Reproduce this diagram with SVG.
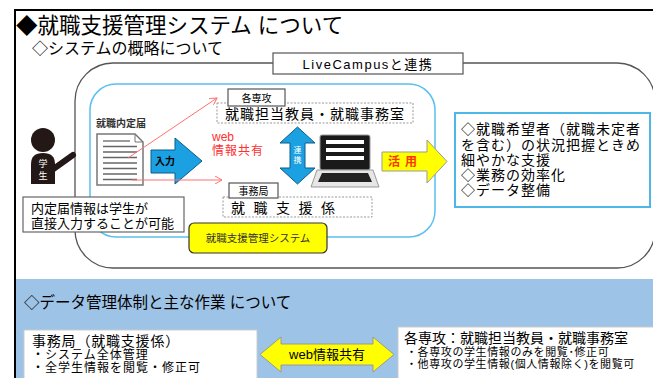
<svg xmlns="http://www.w3.org/2000/svg" width="653" height="378" viewBox="0 0 653 378">
<style>
text{font-family:"Liberation Sans","Noto Sans CJK JP",sans-serif;}
.lbl{fill:#fff;stroke:#555;stroke-width:1.2;}
.dash{fill:#fff;stroke:#999;stroke-width:1;stroke-dasharray:2,1.5;}
.red{stroke:#ff7070;stroke-width:1;fill:none;}
</style>
<defs>
<marker id="ah" markerWidth="8" markerHeight="8" refX="7" refY="4" orient="auto" markerUnits="userSpaceOnUse">
<path d="M0,0 L7,4 L0,8" fill="none" stroke="#ff7070" stroke-width="1"/>
</marker>
</defs>
<rect width="653" height="378" fill="#fff"/>
<rect x="16" y="279" width="637" height="99" fill="#9dc3e6"/>
<path d="M653,10 H15 V378" fill="none" stroke="#000" stroke-width="2"/>
<text x="16" y="33" font-size="21.5" fill="#000">◆就職支援管理システム について</text>
<text x="32" y="54" font-size="16" fill="#000">◇システムの概略について</text>

<g id="outer">
<rect x="75" y="63" width="580" height="205" rx="38" fill="none" stroke="#555" stroke-width="1.3"/>
</g>
<g id="livecampus">
<rect x="273" y="53" width="190" height="21" class="lbl"/>
<text x="368" y="69" font-size="13" text-anchor="middle" letter-spacing="1.5" fill="#000">LiveCampusと連携</text>
</g>
<g id="inner">
<rect x="90" y="84" width="345" height="153" rx="26" fill="none" stroke="#5bc0f0" stroke-width="1.5"/>
</g>
<g id="system">
<rect x="189" y="223" width="138" height="30" rx="5" fill="#ffff00" stroke="#333" stroke-width="1.2"/>
<text x="258" y="242" font-size="10.5" text-anchor="middle" fill="#333">就職支援管理システム</text>
</g>

<g id="student">
<circle cx="43" cy="140" r="12" fill="#231815"/>
<path d="M31,184 V164 Q31,153 43,153 Q55,153 55,164 V184 Z" fill="#231815"/>
<line x1="52" y1="170" x2="73" y2="155" stroke="#231815" stroke-width="6" stroke-linecap="round"/>
<text x="43" y="167" font-size="9" text-anchor="middle" fill="#fff">学</text>
<text x="43" y="179" font-size="9" text-anchor="middle" fill="#fff">生</text>
</g>
<g id="note">
<rect x="23" y="197" width="161" height="35" fill="#fff" stroke="#666" stroke-width="1.2"/>
<text x="31" y="213" font-size="13" fill="#000">内定届情報は学生が</text>
<text x="31" y="228" font-size="13" fill="#000">直接入力することが可能</text>
</g>
<g id="doc">
<text x="96" y="127" font-size="10" font-weight="bold" fill="#333">就職内定届</text>
<path d="M97,134 H135 L143,142 V185 H97 Z" fill="#fff" stroke="#777" stroke-width="1.5"/>
<path d="M135,134 V142 H143" fill="none" stroke="#777" stroke-width="1"/>
<g stroke="#666" stroke-width="1.3">
<line x1="103" y1="141" x2="130" y2="141"/>
<line x1="103" y1="146.5" x2="137" y2="146.5"/>
<line x1="103" y1="152" x2="137" y2="152"/>
<line x1="103" y1="157.5" x2="137" y2="157.5"/>
<line x1="103" y1="163" x2="137" y2="163"/>
<line x1="103" y1="168.5" x2="137" y2="168.5"/>
<line x1="103" y1="174" x2="137" y2="174"/>
<line x1="103" y1="179.5" x2="137" y2="179.5"/>
</g>
</g>
<g id="input-arrow">
<polygon points="151,150 175,150 175,138 202,161 175,184 175,173 151,173" fill="#1ba1e2" stroke="#0a5c8a" stroke-width="1"/>
<text x="165" y="165" font-size="10" font-weight="bold" text-anchor="middle" fill="#000">入力</text>
</g>
<g id="senko">
<rect x="217" y="103" width="196" height="20" class="dash"/>
<rect x="228" y="89" width="57" height="17" class="lbl"/>
<text x="256.5" y="101.5" font-size="10" text-anchor="middle" fill="#000">各専攻</text>
<text x="225" y="119" font-size="14" letter-spacing="1" fill="#000">就職担当教員・就職事務室</text>
</g>
<g id="jimukyoku">
<rect x="223" y="197" width="149" height="20" class="dash"/>
<rect x="229" y="183" width="49" height="15" class="lbl"/>
<text x="253.5" y="194.5" font-size="10" text-anchor="middle" fill="#000">事務局</text>
<text x="231" y="213" font-size="14" letter-spacing="8.5" fill="#000">就職支援係</text>
</g>
<g id="web-label">
<text x="212" y="141" font-size="12" fill="#ff3030">web</text>
<text x="212" y="155" font-size="12" fill="#ff3030" letter-spacing="1">情報共有</text>
</g>
<g id="renkei">
<polygon points="297.5,127 315,143 305,143 305,168 315,168 297.5,184 280,168 290,168 290,143 280,143" fill="#1ba1e2" stroke="#0a5c8a" stroke-width="1"/>
<text x="297.5" y="153" font-size="8" text-anchor="middle" fill="#fff">連</text>
<text x="297.5" y="163" font-size="8" text-anchor="middle" fill="#fff">携</text>
</g>
<g id="laptop">
<rect x="320" y="135" width="50" height="35" rx="2" fill="#1a1a1a" stroke="#999" stroke-width="1"/>
<rect x="326" y="140" width="38" height="4" fill="#fff"/>
<rect x="326" y="148" width="38" height="4" fill="#fff"/>
<rect x="326" y="156" width="38" height="4" fill="#fff"/>
<polygon points="317,170 373,170 379,187 311,187" fill="#e6e6e6" stroke="#999" stroke-width="1"/>
<polygon points="322,173 368,173 372,182 318,182" fill="#222"/>
</g>
<g id="katsuyo">
<polygon points="382,152 427,152 427,140 447,161.5 427,183 427,171 382,171" fill="#ffff00" stroke="#999" stroke-width="1"/>
<text x="405" y="166" font-size="12" font-weight="bold" text-anchor="middle" letter-spacing="5" fill="#ff3300">活用</text>
</g>
<g id="benefits">
<rect x="455" y="113" width="195" height="94" fill="#fff" stroke="#4db8e8" stroke-width="2"/>
<g font-size="14" fill="#000" letter-spacing="1">
<text x="461" y="134">◇就職希望者（就職未定者</text>
<text x="461" y="150">を含む）の状況把握ときめ</text>
<text x="461" y="165">細やかな支援</text>
<text x="461" y="180">◇業務の効率化</text>
<text x="461" y="195">◇データ整備</text>
</g>
</g>
<g id="connectors">
<line x1="128" y1="158" x2="217" y2="98" class="red" marker-end="url(#ah)"/>
<line x1="132" y1="180" x2="222" y2="180" class="red" marker-end="url(#ah)"/>
</g>

<text x="24" y="308" font-size="15.5" fill="#000">◇データ管理体制と主な作業 について</text>
<g id="jimu-box">
<rect x="24" y="330" width="233" height="60" fill="#fff" stroke="#ccc" stroke-width="1"/>
<text x="32" y="346" font-size="14" letter-spacing="0.8" fill="#000">事務局（就職支援係）</text>
<text x="32" y="359" font-size="12" letter-spacing="1" fill="#000">・システム全体管理</text>
<text x="32" y="372" font-size="12" letter-spacing="1" fill="#000">・全学生情報を閲覧・修正可</text>
</g>
<g id="share-arrow">
<polygon points="260,354.5 281,337 281,344 373,344 373,337 394,354.5 373,372 373,365 281,365 281,372" fill="#ffff00" stroke="#999" stroke-width="1"/>
<text x="327" y="359" font-size="13" text-anchor="middle" fill="#000">web情報共有</text>
</g>
<g id="senko-box">
<rect x="398" y="327" width="260" height="60" fill="#fff" stroke="#ccc" stroke-width="1"/>
<text x="404" y="343" font-size="14" fill="#000">各専攻：就職担当教員・就職事務室</text>
<text x="406" y="356" font-size="11" letter-spacing="0.6" fill="#000">・各専攻の学生情報のみを閲覧･修正可</text>
<text x="406" y="368" font-size="11" letter-spacing="0.6" fill="#000">・他専攻の学生情報(個人情報除く)を閲覧可</text>
</g>
</svg>
